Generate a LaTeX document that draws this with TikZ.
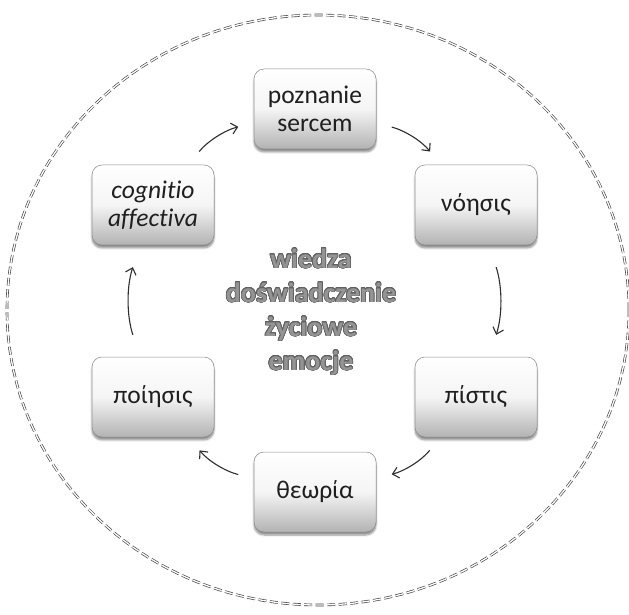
\documentclass[tikz,border=0pt]{standalone}
\usepackage{fontspec}
\setmainfont{Carlito}[Ligatures={NoCommon}]
\usepackage[copies]{contour}
\usetikzlibrary{arrows.meta,shadows.blur}

\contourlength{0.7pt}
\contournumber{24}

\tikzset{
  stage/.style={
    draw=black!45, line width=0.5pt, rounded corners=10pt,
    minimum width=122pt, minimum height=80pt, align=center,
    top color=white, bottom color=black!30, middle color=white!96!black,
    text=black!88,
    font=\fontsize{25.5}{28}\selectfont,
    blur shadow={shadow xshift=0pt, shadow yshift=-3pt,
                 shadow blur steps=6, shadow opacity=45}
  },
  flow/.style={
    draw=black!82, line width=1.1pt,
    -{Straight Barb[length=6pt,width=11pt,line width=1.1pt]},
    bend left=18
  },
  rim/.style={
    draw=black!75, line width=0.65pt, double=white, double distance=1.3pt,
    dash pattern=on 8pt off 3.5pt
  },
  core/.style={
    align=center, text=black!42,
    font=\bfseries\fontsize{28}{34}\selectfont
  }
}

\begin{document}
\begin{tikzpicture}[x=1pt,y=1pt]
  \useasboundingbox (0,0) rectangle (629,614);

  % outer double dashed ellipse
  \draw[rim] (318,304) ellipse [x radius=311, y radius=295];

  % the six stages
  \node[stage] (poz) at (315,505) {poznanie\\sercem};
  \node[stage] (von) at (476,409) {νόησις};
  \node[stage] (pis) at (476,217) {πίστις};
  \node[stage] (the) at (315,122) {θεωρία};
  \node[stage] (poi) at (153,217) {ποίησις};
  \node[stage] (cog) at (153,409) {\itshape cognitio\\\itshape affectiva};

  % centre text
  \node[core] (mid) at (311,302)
    {\contour{black!62}{wiedza}\\
     \contour{black!62}{doświadczenie}\\
     \contour{black!62}{życiowe}\\
     \contour{black!62}{emocje}};

  % cycle of arrows
  \draw[flow, shorten <=17pt, shorten >=16pt] (cog) to (poz);
  \draw[flow, shorten <=16pt, shorten >=17pt] (poz) to (von);
  \draw[flow, shorten <=23pt, shorten >=23pt] (von) to (pis);
  \draw[flow, shorten <=17pt, shorten >=16pt] (pis) to (the);
  \draw[flow, shorten <=16pt, shorten >=17pt] (the) to (poi);
  \draw[flow, shorten <=23pt, shorten >=23pt] (poi) to (cog);
\end{tikzpicture}
\end{document}
